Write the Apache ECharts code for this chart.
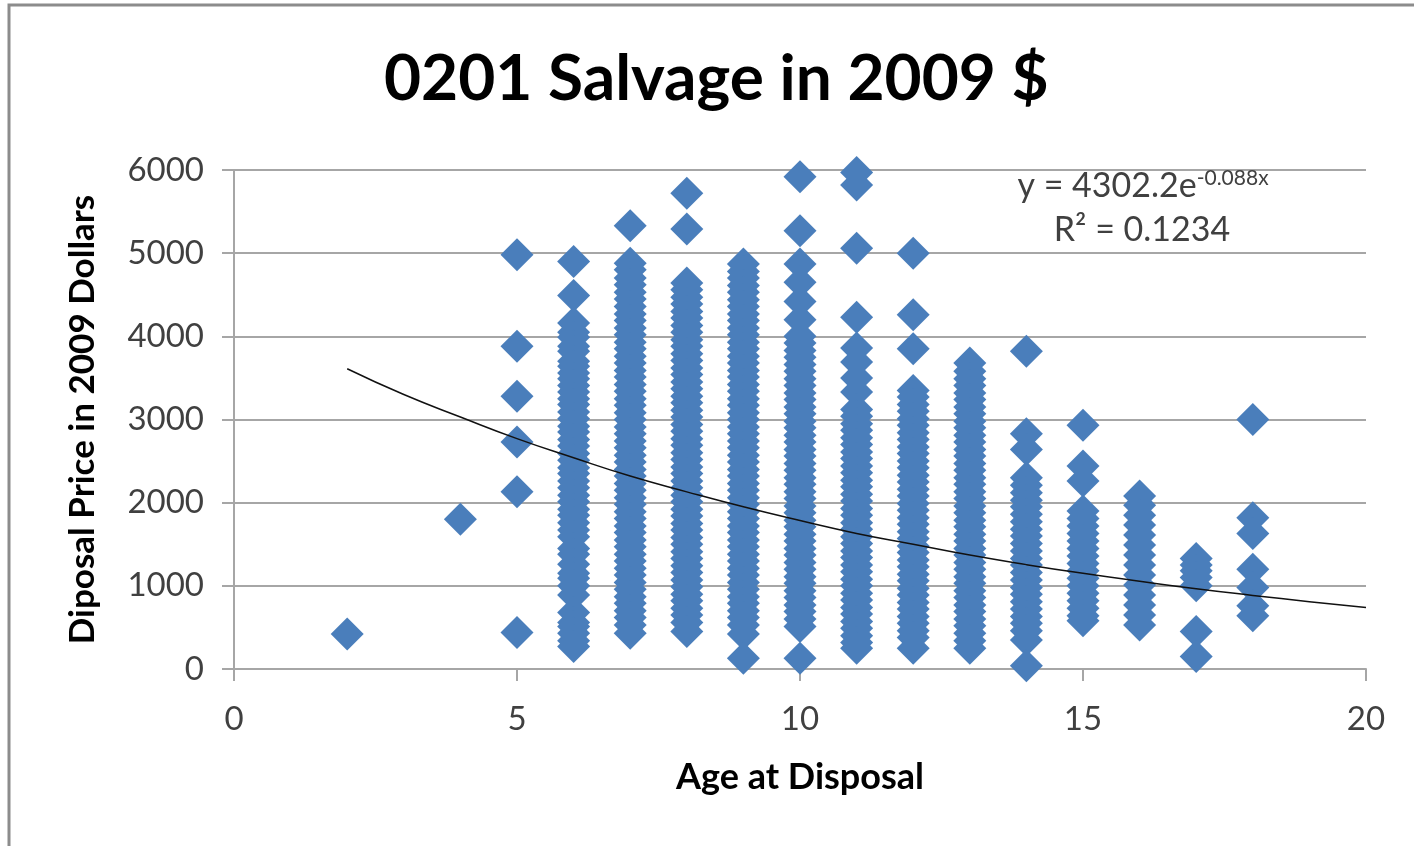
<!DOCTYPE html>
<html>
<head>
<meta charset="utf-8">
<script src="https://cdn.jsdelivr.net/npm/echarts@6/dist/echarts.min.js"></script>
<style>
  html, body { margin: 0; padding: 0; background: #fff; }
  #main { width: 1414px; height: 846px; }
</style>
</head>
<body>
<div id="main"></div>
<script>
// prices, one list per age at disposal
const age2 = [420]
const age4 = [1800]
const age5 = [4980, 3880, 3280, 2730, 2130, 440]
const age6 = [4900, 4490, 4160, 4050, 3990, 3880, 3820, 3700, 3640, 3560, 3490, 3410, 3330, 3250, 3180, 3090,
    3010, 2920, 2850, 2760, 2680, 2590, 2510, 2420, 2350, 2260, 2180, 2090, 2010, 1920, 1850, 1760, 1670, 1590,
    1450, 1380, 1260, 1150, 1090, 1000, 890, 680, 560, 510, 430, 340, 270]
const age7 = [5330, 4880, 4800, 4700, 4620, 4530, 4450, 4360, 4270, 4190, 4100, 4020, 3930, 3850, 3760, 3680,
    3590, 3510, 3420, 3340, 3250, 3170, 3080, 3000, 2910, 2830, 2740, 2660, 2570, 2490, 2400, 2320, 2230, 2150,
    2060, 1980, 1890, 1810, 1720, 1640, 1550, 1470, 1380, 1300, 1210, 1130, 1040, 960, 870, 790, 700, 620, 530, 430]
const age8 = [5720, 5290, 4640, 4560, 4470, 4390, 4300, 4220, 4130, 4050, 3960, 3880, 3790, 3710, 3620, 3540,
    3450, 3370, 3280, 3200, 3110, 3030, 2940, 2860, 2770, 2690, 2600, 2520, 2430, 2350, 2260, 2180, 2090, 2010,
    1920, 1840, 1750, 1670, 1580, 1500, 1410, 1330, 1240, 1160, 1070, 990, 900, 820, 730, 650, 560, 450]
const age9 = [4870, 4780, 4700, 4610, 4530, 4440, 4360, 4270, 4190, 4100, 4020, 3930, 3850, 3760, 3680, 3590,
    3510, 3420, 3340, 3250, 3170, 3080, 3000, 2910, 2830, 2740, 2660, 2570, 2490, 2400, 2320, 2230, 2150, 2060,
    1980, 1890, 1810, 1720, 1640, 1550, 1470, 1380, 1300, 1210, 1130, 1040, 960, 870, 790, 700, 620, 530, 420, 130]
const age10 = [5920, 5270, 4870, 4650, 4420, 4200, 4000, 3920, 3830, 3750, 3660, 3580, 3490, 3410, 3320, 3240,
    3150, 3070, 2980, 2900, 2810, 2730, 2640, 2560, 2470, 2390, 2300, 2220, 2130, 2050, 1960, 1880, 1790, 1710,
    1620, 1540, 1450, 1370, 1280, 1200, 1110, 1030, 940, 860, 770, 690, 600, 510, 130]
const age11 = [5970, 5820, 5060, 4230, 3860, 3690, 3500, 3330, 3120, 3040, 2950, 2870, 2780, 2700, 2610, 2530,
    2440, 2360, 2270, 2190, 2100, 2020, 1930, 1850, 1760, 1680, 1590, 1510, 1420, 1340, 1250, 1170, 1080, 1000,
    910, 830, 740, 660, 570, 490, 400, 320, 250]
const age12 = [5000, 4260, 3850, 3350, 3270, 3180, 3100, 3010, 2930, 2840, 2760, 2670, 2590, 2500, 2420, 2330,
    2250, 2160, 2080, 1990, 1910, 1820, 1740, 1650, 1570, 1480, 1400, 1310, 1230, 1140, 1060, 970, 890, 800,
    720, 630, 550, 460, 380, 250]
const age13 = [3680, 3580, 3490, 3410, 3320, 3240, 3150, 3070, 2980, 2900, 2810, 2730, 2640, 2560, 2470, 2390,
    2300, 2220, 2130, 2050, 1960, 1880, 1790, 1710, 1620, 1540, 1450, 1370, 1280, 1200, 1110, 1030, 940, 860,
    770, 690, 600, 520, 430, 340, 250]
const age14 = [3820, 2830, 2640, 2300, 2210, 2120, 2030, 1950, 1860, 1770, 1680, 1600, 1510, 1420, 1330, 1250,
    1160, 1070, 980, 900, 810, 720, 630, 550, 460, 350, 40]
const age15 = [2930, 2440, 2260, 1900, 1810, 1720, 1630, 1540, 1450, 1360, 1270, 1180, 1090, 1000, 910, 820,
    730, 640, 580]
const age16 = [2080, 1970, 1850, 1730, 1610, 1490, 1370, 1250, 1130, 1010, 890, 770, 650, 530]
const age17 = [1330, 1250, 1180, 1100, 1000, 450, 150]
const age18 = [3000, 1820, 1630, 1200, 980, 760, 640]

const ages = [2, 4, 5, 6, 7, 8, 9, 10, 11, 12, 13, 14, 15, 16, 17, 18]
const prices = [age2, age4, age5, age6, age7, age8, age9, age10, age11, age12, age13, age14, age15, age16, age17, age18]

// exponential trendline as drawn (y = 4302.2e^-0.088x), read at each whole year
const trendX = [2, 3, 4, 5, 6, 7, 8, 9, 10, 11, 12, 13, 14, 15, 16, 17, 18, 19, 20]
const trendY = [3610, 3300, 3030, 2770, 2540, 2320, 2130, 1950, 1785, 1630, 1500, 1370, 1255, 1150, 1055, 965, 885, 810, 740]

const xTicks = [0, 5, 10, 15, 20]
const yTicks = [0, 1000, 2000, 3000, 4000, 5000, 6000]

let points = []
ages.forEach((a, i) => {
    prices[i].forEach((p) => points.push([a, p]))
})
const trend = trendX.map((x, i) => [x, trendY[i]])

const chart = echarts.init(document.getElementById('main'), null, { renderer: 'canvas' })

const FONT = 'Lato, "Open Sans", sans-serif'
const GRID_C = '#a6a6a6'

const option = {
    animation: false,
    backgroundColor: '#fff',
    title: {
        text: '0201 Salvage in 2009 $',
        left: 384,
        top: 47,
        padding: 0,
        textStyle: { fontFamily: FONT, fontWeight: 'bold', fontSize: 64, color: '#000' }
    },
    grid: { left: 234, right: 48, top: 170, bottom: 177 },
    xAxis: {
        type: 'value',
        min: xTicks[0],
        max: xTicks[xTicks.length - 1],
        interval: 5,
        name: 'Age at Disposal',
        nameLocation: 'middle',
        nameGap: 90,
        nameTextStyle: { fontFamily: FONT, fontWeight: 'bold', fontSize: 36, color: '#000' },
        axisLine: { lineStyle: { color: GRID_C, width: 2 } },
        axisTick: { show: true, length: 12, lineStyle: { color: GRID_C, width: 2 } },
        axisLabel: { margin: 34, fontFamily: FONT, fontSize: 33, color: '#404040' },
        splitLine: { show: false }
    },
    yAxis: {
        type: 'value',
        min: yTicks[0],
        max: yTicks[yTicks.length - 1],
        interval: 1000,
        name: 'Diposal Price in 2009 Dollars',
        nameLocation: 'middle',
        nameGap: 134,
        nameTextStyle: { fontFamily: FONT, fontWeight: 'bold', fontSize: 35, color: '#000' },
        axisLine: { show: true, lineStyle: { color: GRID_C, width: 2 } },
        axisTick: { show: true, length: 12, lineStyle: { color: GRID_C, width: 2 } },
        axisLabel: { margin: 30, fontFamily: FONT, fontSize: 33, color: '#404040', formatter: (v) => String(v) },
        splitLine: { show: true, lineStyle: { color: GRID_C, width: 2 } }
    },
    graphic: [
        {
            // outer chart frame, only top and left edges show
            type: 'rect',
            shape: { x: 9, y: 5, width: 1500, height: 900 },
            style: { fill: 'none', stroke: '#8c8c8c', lineWidth: 3 },
            silent: true
        },
        {
            type: 'text',
            z: 100,
            style: {
                x: 1143,
                y: 186,
                text: '{a|y = 4302.2e}{b|-0.088x}',
                align: 'center',
                verticalAlign: 'middle',
                rich: {
                    a: { fontFamily: FONT, fontSize: 34, fill: '#404040', color: '#404040' },
                    b: { fontFamily: FONT, fontSize: 21, fill: '#404040', color: '#404040', verticalAlign: 'top', padding: [0, 0, 16, 0] }
                }
            }
        },
        {
            type: 'text',
            z: 100,
            style: {
                x: 1142,
                y: 230,
                text: 'R² = 0.1234',
                align: 'center',
                verticalAlign: 'middle',
                font: '34px ' + FONT,
                fill: '#404040'
            }
        }
    ],
    series: [
        {
            name: 'Salvage',
            type: 'scatter',
            symbol: 'diamond',
            symbolSize: [33, 33],
            itemStyle: { color: '#4a7ebb', opacity: 1 },
            data: points,
            z: 3
        },
        {
            name: 'Trend',
            type: 'line',
            data: trend,
            smooth: true,
            showSymbol: false,
            lineStyle: { color: '#111', width: 1.5 },
            z: 5
        }
    ]
}

chart.setOption(option)
</script>
</body>
</html>
